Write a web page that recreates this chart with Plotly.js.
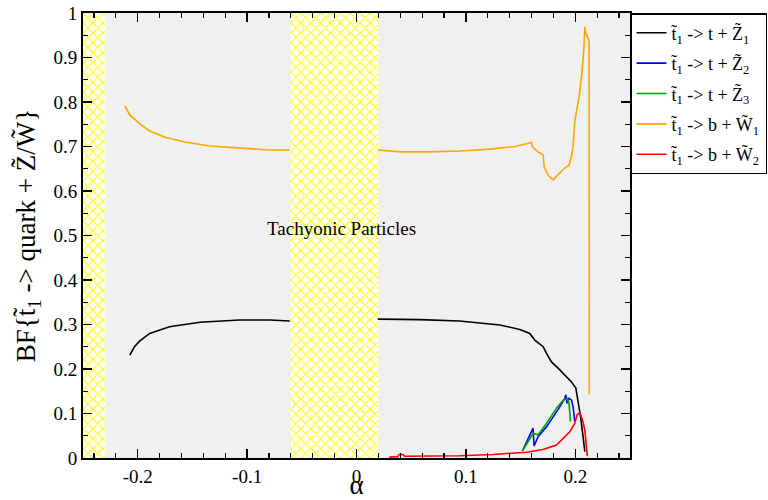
<!DOCTYPE html>
<html>
<head>
<meta charset="utf-8">
<script src="https://cdn.plot.ly/plotly-3.0.1.min.js"></script>
<style>html,body{margin:0;padding:0;background:#fff;}#chart{width:768px;height:500px;}</style>
</head>
<body>
<div id="chart"></div>
<script>
// ---- data ----
const seriesNames = [
  "t\u0303<sub>1</sub> -> t + Z\u0303<sub>1</sub>",
  "t\u0303<sub>1</sub> -> t + Z\u0303<sub>2</sub>",
  "t\u0303<sub>1</sub> -> t + Z\u0303<sub>3</sub>",
  "t\u0303<sub>1</sub> -> b + W\u0303<sub>1</sub>",
  "t\u0303<sub>1</sub> -> b + W\u0303<sub>2</sub>"
];
const seriesColors = ["#000000", "#0000ff", "#00a000", "#ffa500", "#ff0000"];

// black: t + Z1 (null = gap across tachyonic band)
const z1X = [-0.2072, -0.203, -0.198, -0.189, -0.171, -0.143, -0.107, -0.079, -0.061, null,
  0.0195, 0.058, 0.094, 0.1127, 0.131, 0.1493, 0.1584, 0.163, 0.1706, 0.1737, 0.1782,
  0.1843, 0.1904, 0.1965, 0.2005, 0.2026, 0.2048, 0.2071, 0.2087];
const z1Y = [0.231, 0.250, 0.263, 0.280, 0.295, 0.305, 0.310, 0.310, 0.308, null,
  0.312, 0.311, 0.308, 0.304, 0.299, 0.289, 0.280, 0.265, 0.250, 0.235, 0.216,
  0.202, 0.187, 0.171, 0.157, 0.130, 0.093, 0.048, 0.014];

// blue: t + Z2
const z2X = [0.1517, 0.160, 0.1614, 0.1623, 0.166, 0.1737, 0.1813, 0.1858, 0.1904,
  0.1913, 0.1925, 0.1943, 0.1965, 0.198, 0.1995];
const z2Y = [0.016, 0.059, 0.067, 0.027, 0.048, 0.070, 0.097, 0.115, 0.134,
  0.142, 0.123, 0.134, 0.130, 0.115, 0.082];

// green: t + Z3
const z3X = [0.1517, 0.1614, 0.166, 0.1737, 0.1828, 0.1889, 0.1925, 0.1943, 0.1956];
const z3Y = [0.016, 0.055, 0.052, 0.078, 0.112, 0.130, 0.134, 0.123, 0.082];

// orange: b + W1
const w1X = [-0.2118, -0.2072, -0.198, -0.189, -0.175, -0.157, -0.134, -0.107, -0.0797, -0.061, null,
  0.0195, 0.04, 0.067, 0.0944, 0.122, 0.145, 0.160, 0.1605, 0.166, 0.1706, 0.1715,
  0.175, 0.1797, 0.1858, 0.190, 0.1943, 0.1965, 0.198, 0.1995, 0.2016, 0.2035,
  0.2057, 0.2078, 0.2087, 0.2096, 0.2126, 0.2128];
const w1Y = [0.791, 0.771, 0.751, 0.735, 0.721, 0.710, 0.701, 0.696, 0.692, 0.692, null,
  0.692, 0.688, 0.688, 0.690, 0.694, 0.700, 0.709, 0.700, 0.688, 0.681, 0.655,
  0.636, 0.625, 0.640, 0.651, 0.658, 0.677, 0.700, 0.756, 0.786, 0.812,
  0.857, 0.917, 0.969, 0.954, 0.939, 0.143];

// red: b + W2
const w2X = [0.030, 0.0378, 0.0390, 0.0423, 0.044, 0.060, 0.0944, 0.1249, 0.1554, 0.1706,
  0.1828, 0.195, 0.1995, 0.2016, 0.2041, 0.2066, 0.2087, 0.2102, 0.2111];
const w2Y = [0.002, 0.003, 0.008, 0.008, 0.004, 0.004, 0.005, 0.008, 0.013, 0.019,
  0.029, 0.059, 0.078, 0.097, 0.102, 0.085, 0.063, 0.025, 0.004];

// tachyonic (excluded) alpha ranges
const bandStarts = [-0.25, -0.06];
const bandEnds = [-0.23, 0.02];
const bandLabel = "Tachyonic Particles";
const bandLabelPos = [-0.014, 0.515];

const xTickVals = [-0.2, -0.1, 0, 0.1, 0.2];
const xTickText = ["-0.2", "-0.1", "0", "0.1", "0.2"];
const yTickVals = [0, 0.1, 0.2, 0.3, 0.4, 0.5, 0.6, 0.7, 0.8, 0.9, 1];
const yTickText = ["0", "0.1", "0.2", "0.3", "0.4", "0.5", "0.6", "0.7", "0.8", "0.9", "1"];
const xRange = [-0.25, 0.25];
const yRange = [0, 1];

// ---- build traces ----
const FONT = "Liberation Serif, Times New Roman, serif";
const traces = [];

// dotted light-grey background
traces.push({
  x: [xRange[0], xRange[1], xRange[1], xRange[0]],
  y: [yRange[0], yRange[0], yRange[1], yRange[1]],
  type: "scatter", mode: "lines", fill: "toself",
  line: {width: 0, color: "rgba(0,0,0,0)"},
  fillcolor: "#f6f6f6",
  fillpattern: {shape: ".", fgcolor: "#e6e6e6", bgcolor: "#f9f9f9", size: 2, solidity: 0.5},
  showlegend: false, hoverinfo: "skip"
});

for (let i = 0; i < bandStarts.length; i++) {
  traces.push({
    x: [bandStarts[i], bandEnds[i], bandEnds[i], bandStarts[i]],
    y: [yRange[0], yRange[0], yRange[1], yRange[1]],
    type: "scatter", mode: "lines", fill: "toself",
    line: {width: 0, color: "rgba(0,0,0,0)"},
    fillcolor: "#ffffff",
    fillpattern: {shape: "x", fgcolor: "#ffff00", bgcolor: "#ffffff", size: 7, solidity: 0.3},
    showlegend: false, hoverinfo: "skip"
  });
}

const seriesX = [z1X, z2X, z3X, w1X, w2X];
const seriesY = [z1Y, z2Y, z3Y, w1Y, w2Y];
for (let i = 0; i < seriesNames.length; i++) {
  traces.push({
    x: seriesX[i], y: seriesY[i], name: seriesNames[i],
    legendgroup: "g" + i,
    type: "scatter", mode: "lines", connectgaps: false,
    line: {color: seriesColors[i], width: 1.6}
  });
}

const axisCommon = {
  showgrid: false, zeroline: false,
  showline: true, linecolor: "#000", linewidth: 2, mirror: "allticks",
  ticks: "inside", ticklen: 9, tickwidth: 1.5, tickcolor: "#000",
  tickfont: {family: FONT, size: 19, color: "#000"}
};

const layout = {
  width: 768, height: 500,
  margin: {l: 83, r: 138, t: 13, b: 42, autoexpand: false},
  paper_bgcolor: "#ffffff", plot_bgcolor: "#ffffff",
  font: {family: FONT, color: "#000"},
  xaxis: Object.assign({}, axisCommon, {
    range: xRange, tickmode: "array", tickvals: xTickVals, ticktext: xTickText,
    minor: {ticks: "inside", ticklen: 5, tickwidth: 1.2, tickcolor: "#000", dtick: 0.02, tick0: 0},
    title: {text: "\u03b1", font: {family: FONT, size: 27, color: "#000"}, standoff: 9}
  }),
  yaxis: Object.assign({}, axisCommon, {
    range: yRange, tickmode: "array", tickvals: yTickVals, ticktext: yTickText,
    minor: {ticks: "inside", ticklen: 5, tickwidth: 1.2, tickcolor: "#000", dtick: 0.05, tick0: 0},
    title: {text: "BF{t\u0303<sub>1</sub> -> quark + Z\u0303/W\u0303}", font: {family: FONT, size: 27, color: "#000"}, standoff: 10}
  }),
  legend: {
    x: 1, y: 1, xanchor: "left", yanchor: "top",
    bgcolor: "#ffffff", bordercolor: "#000", borderwidth: 1.5,
    font: {family: FONT, size: 18, color: "#000"},
    tracegroupgap: 4, itemwidth: 30
  },
  annotations: [{
    x: bandLabelPos[0], y: bandLabelPos[1], xref: "x", yref: "y",
    text: bandLabel, showarrow: false,
    font: {family: FONT, size: 19, color: "#000"}
  }]
};

Plotly.newPlot("chart", traces, layout, {staticPlot: true, displayModeBar: false});
</script>
</body>
</html>
